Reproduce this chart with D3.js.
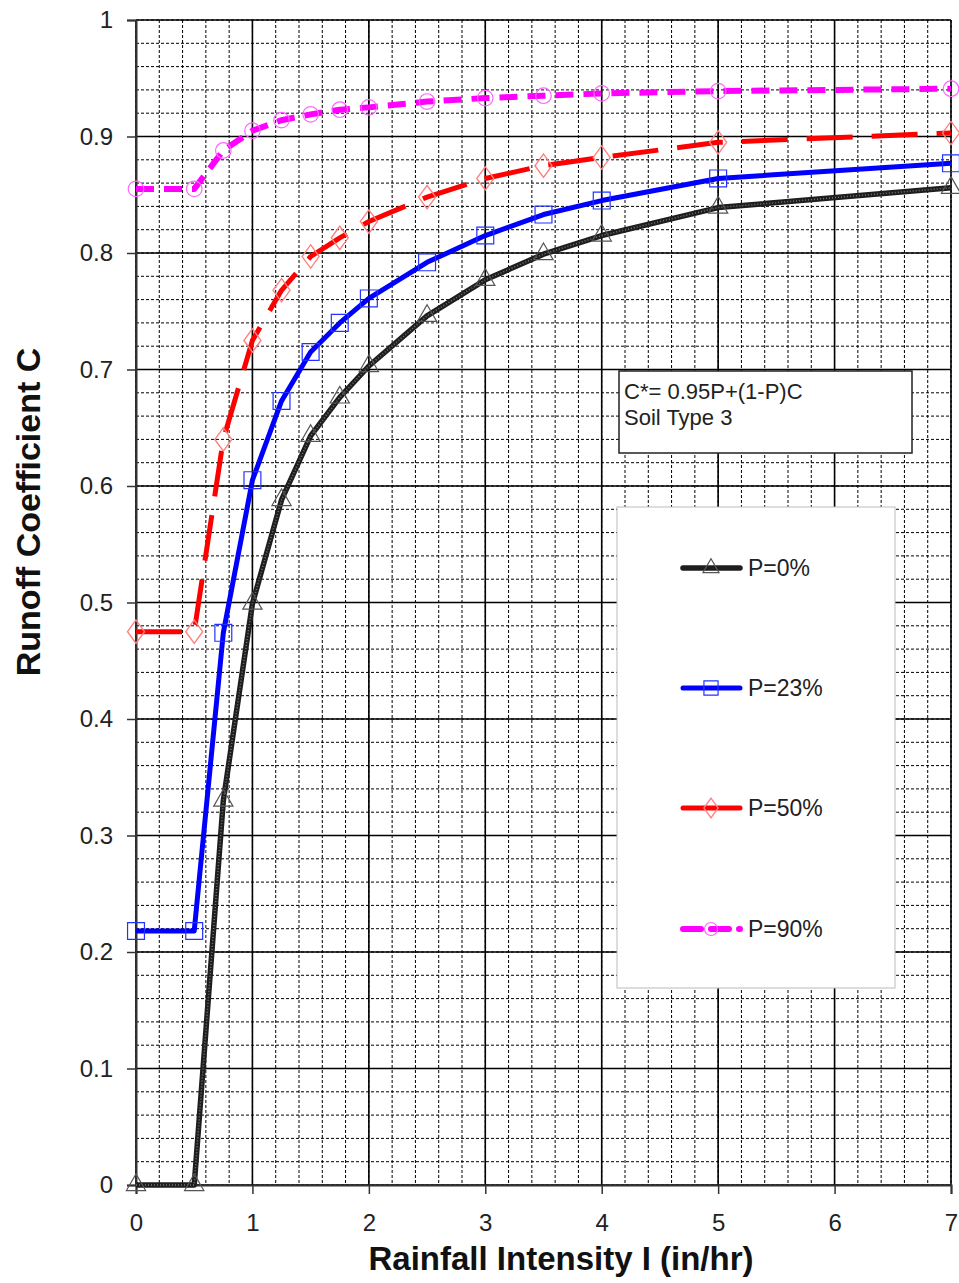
<!DOCTYPE html>
<html>
<head>
<meta charset="utf-8">
<script src="https://cdn.jsdelivr.net/npm/d3@7"></script>
<style>
  body { margin: 0; background: #fff; }
  svg { display: block; font-family: "Liberation Sans", Arial, sans-serif; }
</style>
</head>
<body>
<div id="chart"></div>
<script>
// rainfall intensity (in/hr) where the markers sit
var intensity = [0, 0.5, 0.75, 1, 1.25, 1.5, 1.75, 2, 2.5, 3, 3.5, 4, 5, 7];

// runoff coefficient
var cP0  = [0, 0, 0.330, 0.499, 0.588, 0.643, 0.676, 0.703, 0.746, 0.777, 0.799, 0.815, 0.839, 0.856];
var cP23 = [0.218, 0.218, 0.474, 0.605, 0.673, 0.715, 0.740, 0.761, 0.792, 0.815, 0.833, 0.845, 0.864, 0.877];
var cP50 = [0.475, 0.475, 0.640, 0.725, 0.768, 0.797, 0.813, 0.827, 0.848, 0.864, 0.875, 0.882, 0.895, 0.903];
var cP90 = [0.855, 0.855, 0.888, 0.905, 0.914, 0.919, 0.923, 0.925, 0.930, 0.933, 0.935, 0.937, 0.939, 0.941];

var seriesNames = ["P=0%", "P=23%", "P=50%", "P=90%"];
var xTicks = [0, 1, 2, 3, 4, 5, 6, 7];
var yTicks = [0, 0.1, 0.2, 0.3, 0.4, 0.5, 0.6, 0.7, 0.8, 0.9, 1];
var noteLines = ["C*= 0.95P+(1-P)C", "Soil Type 3"];

var W = 959, H = 1283;
var pL = 136, pR = 951, pT = 20, pB = 1185;

var x = d3.scaleLinear().domain([0, 7]).range([pL, pR]);
var y = d3.scaleLinear().domain([0, 1]).range([pB, pT]);

var svg = d3.select("#chart").append("svg")
  .attr("width", W).attr("height", H);

// minor grid (dashed)
var grid = svg.append("g").attr("class", "grid");
grid.selectAll("line.vx").data(d3.range(0, 7.001, 0.2))
  .enter().append("line")
  .attr("x1", d => x(d)).attr("x2", d => x(d))
  .attr("y1", pT).attr("y2", pB)
  .attr("stroke", "#000").attr("stroke-width", 1)
  .attr("stroke-dasharray", "3,2");
grid.selectAll("line.hy").data(d3.range(0, 1.0001, 0.02))
  .enter().append("line")
  .attr("y1", d => y(d)).attr("y2", d => y(d))
  .attr("x1", pL).attr("x2", pR)
  .attr("stroke", "#000").attr("stroke-width", 1)
  .attr("stroke-dasharray", "3,2");

// major grid
grid.selectAll("line.mx").data(xTicks)
  .enter().append("line")
  .attr("x1", d => x(d)).attr("x2", d => x(d))
  .attr("y1", pT).attr("y2", pB)
  .attr("stroke", "#000").attr("stroke-width", 1.6);
grid.selectAll("line.my").data(yTicks)
  .enter().append("line")
  .attr("y1", d => y(d)).attr("y2", d => y(d))
  .attr("x1", pL).attr("x2", pR)
  .attr("stroke", "#000").attr("stroke-width", 1.6);

// axes
var xAxis = svg.append("g")
  .attr("transform", "translate(0," + pB + ")")
  .call(d3.axisBottom(x).tickValues(xTicks).tickSize(9).tickPadding(15).tickFormat(d3.format("d")));
var yAxis = svg.append("g")
  .attr("transform", "translate(" + pL + ",0)")
  .call(d3.axisLeft(y).tickValues(yTicks).tickSize(9).tickPadding(14).tickFormat(d => d === 0 || d === 1 ? d : d3.format(".1f")(d)));
[xAxis, yAxis].forEach(function (a) {
  a.select(".domain").attr("stroke", "#333").attr("stroke-width", 2);
  a.selectAll(".tick line").attr("stroke", "#333").attr("stroke-width", 1.5);
  a.selectAll(".tick text").attr("font-size", 24).attr("fill", "#222")
    .style("font-family", "Liberation Sans, Arial, sans-serif");
});
xAxis.selectAll(".tick text").attr("dy", "0.9em");

// axis titles
svg.append("text")
  .attr("x", 561).attr("y", 1270)
  .attr("text-anchor", "middle")
  .attr("font-size", 33).attr("font-weight", "bold").attr("fill", "#111")
  .text("Rainfall Intensity I (in/hr)");
svg.append("text")
  .attr("transform", "translate(40,512) rotate(-90)")
  .attr("text-anchor", "middle")
  .attr("font-size", 34).attr("font-weight", "bold").attr("fill", "#111")
  .text("Runoff Coefficient C");

// series styles
var styles = [
  { color: "#1e1e1e", width: 5.5, dash: null, marker: "triangle", mcolor: "#555" },
  { color: "#0000ff", width: 5, dash: null, marker: "square", mcolor: "#2233ff" },
  { color: "#ff0000", width: 5, dash: "46,19", marker: "diamond", mcolor: "#ff8080" },
  { color: "#ff00ff", width: 6, dash: "18,10", marker: "circle", mcolor: "#ff66ff" }
];
var allSeries = [cP0, cP23, cP50, cP90];

var symbolType = {
  triangle: d3.symbolTriangle,
  square: d3.symbolSquare,
  diamond: d3.symbolDiamond,
  circle: d3.symbolCircle
};
var symbolSize = { triangle: 160, square: 285, diamond: 175, circle: 190 };

var line = d3.line().x(d => x(d[0])).y(d => y(d[1]));

allSeries.forEach(function (vals, i) {
  var s = styles[i];
  var pts = intensity.map((v, j) => [v, vals[j]]);
  var g = svg.append("g").attr("class", "series");
  g.append("path")
    .attr("d", line(pts))
    .attr("fill", "none")
    .attr("stroke", s.color)
    .attr("stroke-width", s.width)
    .attr("stroke-dasharray", s.dash)
    .attr("stroke-linejoin", "round");
  if (i === 0) {
    // lighter speckle on the black line
    g.append("path")
      .attr("d", line(pts))
      .attr("fill", "none")
      .attr("stroke", "#777")
      .attr("stroke-width", 1.5)
      .attr("stroke-dasharray", "1,2");
  }
  g.selectAll("path.m").data(pts).enter().append("path")
    .attr("transform", d => "translate(" + x(d[0]) + "," + y(d[1]) + ")" + (s.marker === "diamond" ? " scale(1.2,0.95)" : ""))
    .attr("d", d3.symbol().type(symbolType[s.marker]).size(symbolSize[s.marker]))
    .attr("fill", "none")
    .attr("stroke", s.mcolor)
    .attr("stroke-width", 1.2);
});

// formula note box
var note = svg.append("g");
note.append("rect")
  .attr("x", 619).attr("y", 371).attr("width", 293).attr("height", 82)
  .attr("fill", "#fff").attr("stroke", "#222").attr("stroke-width", 1.5);
note.selectAll("text").data(noteLines).enter().append("text")
  .attr("x", 624).attr("y", (d, i) => 399 + i * 26)
  .attr("font-size", 22).attr("fill", "#222")
  .text(d => d);

// legend
var legend = svg.append("g");
legend.append("rect")
  .attr("x", 617).attr("y", 507).attr("width", 278).attr("height", 481)
  .attr("fill", "#fff").attr("stroke", "#bbb").attr("stroke-width", 1);
var legY = [568, 688, 808, 929];
seriesNames.forEach(function (name, i) {
  var s = styles[i];
  var g = legend.append("g").attr("transform", "translate(0," + legY[i] + ")");
  g.append("line")
    .attr("x1", 683).attr("x2", 740).attr("y1", 0).attr("y2", 0)
    .attr("stroke", s.color).attr("stroke-width", s.width)
    .attr("stroke-dasharray", i === 3 ? "18,10" : null)
    .attr("stroke-linecap", "round");
  g.append("path")
    .attr("transform", "translate(711,0)" + (s.marker === "diamond" ? " scale(1.2,0.95)" : ""))
    .attr("d", d3.symbol().type(symbolType[s.marker]).size(symbolSize[s.marker] * 0.7))
    .attr("fill", "none").attr("stroke", s.mcolor).attr("stroke-width", 1.2);
  g.append("text")
    .attr("x", 748).attr("y", 8)
    .attr("font-size", 23).attr("fill", "#222")
    .text(name);
});
</script>
</body>
</html>
